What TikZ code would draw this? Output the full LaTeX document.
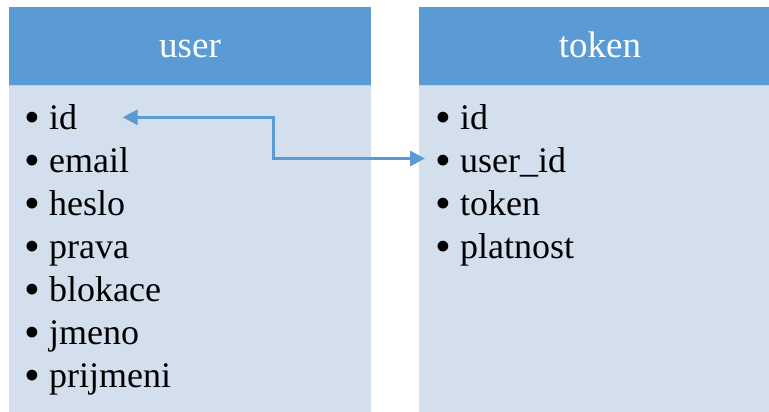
\documentclass[tikz,border=0pt]{standalone}
\usepackage{fontspec}
\setmainfont{Liberation Serif}
\usetikzlibrary{arrows.meta}
\definecolor{hdr}{HTML}{5B9BD5}
\definecolor{bodyc}{HTML}{D4DFEE}
\definecolor{sep}{HTML}{BCD2EC}
\tikzset{
  hdrbox/.style={fill=hdr, draw=none},
  bodybox/.style={fill=bodyc, draw=none},
  hdrtext/.style={anchor=base, inner sep=0pt, text=white, font=\fontsize{37}{44}\selectfont},
  item/.style={anchor=base west, inner sep=0pt, text=black, font=\fontsize{36}{43}\selectfont},
  conn/.style={draw=hdr, line width=3.2pt, {Triangle[length=15pt,width=15pt]}-{Triangle[length=15pt,width=15pt]}},
}
\newcommand{\bul}[1]{\makebox[24pt][l]{\hspace{-1pt}\raisebox{-3pt}{\scalebox{1.25}{•}}}#1}
\begin{document}
\begin{tikzpicture}[x=1pt,y=-1pt]
\useasboundingbox (0,0) rectangle (769,412);
\clip (0,0) rectangle (769,412);
% user table
\path[hdrbox] (9,7) rectangle (371,85);
\path[bodybox] (9,86) rectangle (371,413);
\draw[sep, line width=1pt] (9,85.5) -- (371,85.5);
\node[hdrtext] (uh) at (190,57.3) {user};
% token table
\path[hdrbox] (419,7) rectangle (781,85);
\path[bodybox] (419,86) rectangle (781,413);
\draw[sep, line width=1pt] (419,85.5) -- (781,85.5);
\node[hdrtext] (th) at (600,57.3) {token};
% user items
\node[item] (u1) at (25,129.3) {\bul{id}};
\node[item] (u2) at (25,172.5) {\bul{email}};
\node[item] (u3) at (25,215.5) {\bul{heslo}};
\node[item] (u4) at (25,258.5) {\bul{prava}};
\node[item] (u5) at (25,301.5) {\bul{blokace}};
\node[item] (u6) at (25,344.5) {\bul{jmeno}};
\node[item] (u7) at (25,387.3) {\bul{prijmeni}};
% token items
\node[item] (t1) at (436,129.3) {\bul{id}};
\node[item] (t2) at (436,172.5) {\bul{user\_id}};
\node[item] (t3) at (436,215.5) {\bul{token}};
\node[item] (t4) at (436,258) {\bul{platnost}};
% connector
\coordinate (a) at (122.7,117.3);
\coordinate (m) at (273.3,158.5);
\coordinate (b) at (425,158.5);
\draw[conn] (a) -| (m) -- (b);
\end{tikzpicture}
\end{document}
